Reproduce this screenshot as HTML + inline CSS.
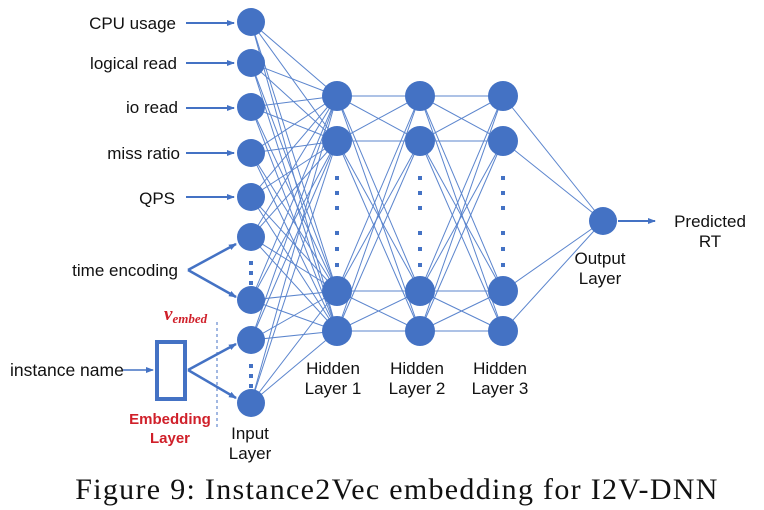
<!DOCTYPE html>
<html><head><meta charset="utf-8"><style>
body{margin:0;background:#fff;width:764px;height:510px;overflow:hidden}
svg{display:block}
text{font-family:"Liberation Sans",Arial,sans-serif;font-size:17px;fill:#111}
</style></head><body>
<svg id="s" width="764" height="510" xmlns="http://www.w3.org/2000/svg">
<defs><marker id="a" markerWidth="8" markerHeight="8" refX="7" refY="4" orient="auto" markerUnits="userSpaceOnUse"><path d="M0,1 L8,4 L0,7z" fill="#4472C4"/></marker></defs>
<g id="lines" stroke="#4A78C8" stroke-width="1" opacity="0.9"></g>
<g stroke="#4472C4" stroke-width="2" fill="none">
<line x1="186" y1="23" x2="234" y2="23" marker-end="url(#a)"/>
<line x1="186" y1="63" x2="234" y2="63" marker-end="url(#a)"/>
<line x1="186" y1="108" x2="234" y2="108" marker-end="url(#a)"/>
<line x1="186" y1="153" x2="234" y2="153" marker-end="url(#a)"/>
<line x1="186" y1="197" x2="234" y2="197" marker-end="url(#a)"/>
<line x1="188" y1="270" x2="236" y2="244" stroke-width="2.5" marker-end="url(#a)"/>
<line x1="188" y1="270" x2="236" y2="297" stroke-width="2.5" marker-end="url(#a)"/>
<line x1="122" y1="370" x2="153" y2="370" stroke-width="1.5" marker-end="url(#a)"/>
<line x1="188" y1="370" x2="236" y2="344" stroke-width="2.5" marker-end="url(#a)"/>
<line x1="188" y1="370" x2="236" y2="398" stroke-width="2.5" marker-end="url(#a)"/>
<line x1="618" y1="221" x2="655" y2="221" marker-end="url(#a)"/>
<rect x="157" y="342" width="28" height="57" stroke-width="4"/>
<line x1="217" y1="322" x2="217" y2="430" stroke-width="1" stroke-dasharray="3,3"/>
</g>
<g id="nodes" fill="#4472C4"></g>
<g fill="#4472C4" id="dots"></g>
<g text-anchor="end">
<text x="176" y="29">CPU usage</text>
<text x="177" y="69">logical read</text>
<text x="178" y="113">io read</text>
<text x="180" y="159">miss ratio</text>
<text x="175" y="204">QPS</text>
<text x="178" y="276">time encoding</text>
</g>
<text x="10" y="376" style="font-size:17.5px">instance name</text>
<text x="164" y="320" style="font-family:'Liberation Serif',serif;font-style:italic;font-weight:bold;fill:#d0202a;font-size:19px">v<tspan style="font-size:13px" dy="3">embed</tspan></text>
<text x="170" y="424" text-anchor="middle" style="fill:#d0202a;font-weight:bold;font-size:15px">Embedding</text>
<text x="170" y="443" text-anchor="middle" style="fill:#d0202a;font-weight:bold;font-size:15px">Layer</text>
<g text-anchor="middle">
<text x="250" y="439">Input</text><text x="250" y="459">Layer</text>
<text x="333" y="374">Hidden</text><text x="333" y="394">Layer 1</text>
<text x="417" y="374">Hidden</text><text x="417" y="394">Layer 2</text>
<text x="500" y="374">Hidden</text><text x="500" y="394">Layer 3</text>
<text x="600" y="264">Output</text><text x="600" y="284">Layer</text>
<text x="710" y="227">Predicted</text><text x="710" y="247">RT</text>
</g>
<text x="397" y="499" text-anchor="middle" style="font-family:'Liberation Serif',serif;font-size:30px;letter-spacing:1.3px;fill:#111">Figure 9: Instance2Vec embedding for I2V-DNN</text>
</svg>
<script>
var NS="http://www.w3.org/2000/svg";
var inp=[22,63,107,153,197,237,300,340,403].map(function(y){return[251,y]});
var hy=[96,141,291,331];
var H=[337,420,503].map(function(x){return hy.map(function(y){return[x,y]})});
var out=[[603,221]];
var L=document.getElementById('lines'),N=document.getElementById('nodes'),D=document.getElementById('dots');
function ln(a,b){var l=document.createElementNS(NS,'line');l.setAttribute('x1',a[0]);l.setAttribute('y1',a[1]);l.setAttribute('x2',b[0]);l.setAttribute('y2',b[1]);L.appendChild(l);}
function conn(A,B){A.forEach(function(a){B.forEach(function(b){ln(a,b)})})}
conn(inp,H[0]);conn(H[0],H[1]);conn(H[1],H[2]);conn(H[2],out);
function c(p,r){var e=document.createElementNS(NS,'circle');e.setAttribute('cx',p[0]);e.setAttribute('cy',p[1]);e.setAttribute('r',r);N.appendChild(e);}
inp.forEach(function(p){c(p,14)});H.forEach(function(g){g.forEach(function(p){c(p,15)})});c(out[0],14);
function dot(x,y){var r=document.createElementNS(NS,'rect');r.setAttribute('x',x-2);r.setAttribute('y',y-2);r.setAttribute('width',4);r.setAttribute('height',4);D.appendChild(r);}
[263,273,283].forEach(function(y){dot(251,y)});[366,376,386].forEach(function(y){dot(251,y)});
[337,420,503].forEach(function(x){[178,193,208,233,249,265].forEach(function(y){dot(x,y)})});
</script>
</body></html>
